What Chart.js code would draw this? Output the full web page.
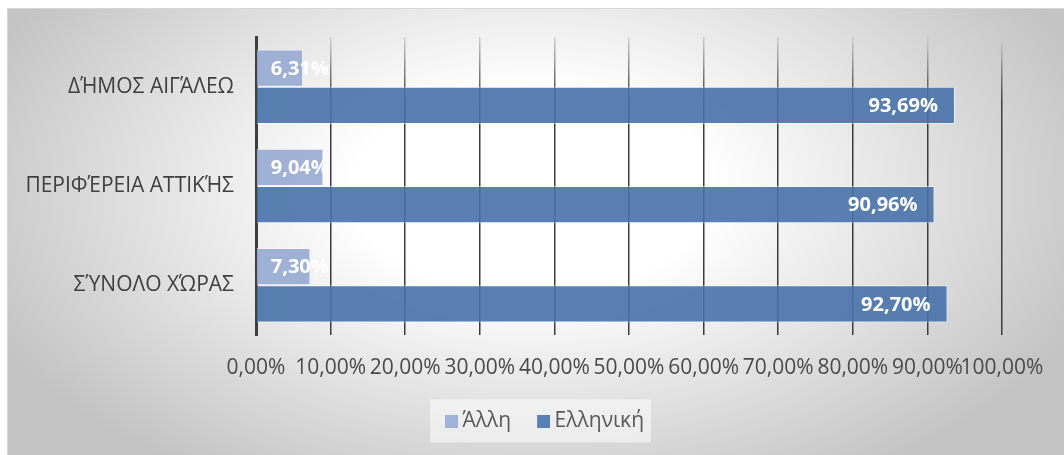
<!DOCTYPE html>
<html>
<head>
<meta charset="utf-8">
<script src="https://cdn.jsdelivr.net/npm/chart.js@4"></script>
<style>
html,body{margin:0;padding:0;background:#fff;}
#wrap{width:1064px;height:455px;position:relative;}
</style>
</head>
<body>
<div id="wrap"><canvas id="c" width="1064" height="455"></canvas></div>
<script>
const categories = ['ΔΉΜΟΣ ΑΙΓΆΛΕΩ', 'ΠΕΡΙΦΈΡΕΙΑ ΑΤΤΙΚΉΣ', 'ΣΎΝΟΛΟ ΧΏΡΑΣ'];
const seriesNames = ['Άλλη', 'Ελληνική'];
const alliValues = [6.31, 9.04, 7.30];
const ellinikiValues = [93.69, 90.96, 92.70];
const xTicks = [0, 10, 20, 30, 40, 50, 60, 70, 80, 90, 100];

const FONT = "'Open Sans', 'Noto Sans', sans-serif";
const fmt = v => v.toFixed(2).replace('.', ',') + '%';

const barColors = ['rgba(150,171,209,0.9)', 'rgba(72,114,168,0.9)'];
const legendColors = ['rgb(160,179,214)', 'rgb(90,128,177)'];

function legendSwatch(color) {
  const c = document.createElement('canvas');
  c.width = 25; c.height = 13;
  const x = c.getContext('2d');
  x.fillStyle = color;
  x.fillRect(12, 0, 13, 13);
  return c;
}

const bgPlugin = {
  id: 'bg',
  beforeDraw(chart) {
    const ctx = chart.ctx;
    const W = chart.width, H = chart.height;
    ctx.save();
    ctx.fillStyle = '#ffffff';
    ctx.fillRect(0, 0, W, H);
    const cx = 532, cy = 190, rx = 600, ry = 340;
    ctx.save();
    ctx.beginPath();
    ctx.rect(7, 8, W - 7, H - 8);
    ctx.clip();
    ctx.translate(cx, cy);
    ctx.scale(1, ry / rx);
    const g = ctx.createRadialGradient(0, 0, 0, 0, 0, rx);
    g.addColorStop(0, '#ffffff');
    g.addColorStop(0.3, '#ffffff');
    g.addColorStop(1, '#c3c3c3');
    ctx.fillStyle = g;
    ctx.fillRect(-cx - 10, -cy * rx / ry - 10, W + 20, H * rx / ry + 20);
    ctx.restore();
    ctx.strokeStyle = '#d6d6d6';
    ctx.lineWidth = 1;
    ctx.beginPath();
    ctx.moveTo(7.5, H);
    ctx.lineTo(7.5, 8.5);
    ctx.lineTo(W, 8.5);
    ctx.stroke();
    const lg = chart.legend;
    if (lg && lg.legendHitBoxes && lg.legendHitBoxes.length) {
      const hb = lg.legendHitBoxes;
      const last = hb[hb.length - 1];
      const x0 = hb[0].left - 9, x1 = last.left + last.width + 7;
      const yc = hb[0].top + hb[0].height / 2;
      ctx.fillStyle = 'rgba(255,255,255,0.5)';
      ctx.fillRect(x0, yc - 22, x1 - x0, 43);
    }
    ctx.restore();
  }
};

const labelPlugin = {
  id: 'barLabels',
  afterDatasetsDraw(chart) {
    const ctx = chart.ctx;
    ctx.save();
    ctx.font = "bold 20px " + FONT;
    ctx.fillStyle = '#ffffff';
    ctx.textAlign = 'right';
    ctx.textBaseline = 'middle';
    chart.data.datasets.forEach((ds, di) => {
      const meta = chart.getDatasetMeta(di);
      meta.data.forEach((el, i) => {
        const txt = fmt(ds.data[i]);
        const w = ctx.measureText(txt).width;
        const right = Math.max(el.x - 17, el.base + 14 + w);
        ctx.fillText(txt, right, el.y + 1);
      });
    });
    ctx.restore();
  }
};

function gridColor(context) {
  const chart = context.chart;
  const a = chart.chartArea;
  if (!a) return '#404040';
  const g = chart.ctx.createLinearGradient(0, a.top, 0, a.bottom);
  g.addColorStop(0, '#cfcfcf');
  g.addColorStop(0.22, '#3c3c3c');
  g.addColorStop(1, '#3c3c3c');
  return g;
}

new Chart(document.getElementById('c'), {
  type: 'bar',
  data: {
    labels: categories,
    datasets: [
      {
        label: seriesNames[0],
        data: alliValues,
        backgroundColor: barColors[0],
        borderColor: 'rgba(255,255,255,0.55)',
        borderWidth: 1
      },
      {
        label: seriesNames[1],
        data: ellinikiValues,
        backgroundColor: barColors[1],
        borderColor: 'rgba(255,255,255,0.5)',
        borderWidth: 1
      }
    ]
  },
  options: {
    indexAxis: 'y',
    responsive: false,
    animation: false,
    devicePixelRatio: 1,
    layout: { padding: { left: 19, top: 37, right: 0, bottom: 13 } },
    datasets: { bar: { categoryPercentage: 0.75, barPercentage: 1.0 } },
    scales: {
      x: {
        min: 0,
        max: 100,
        afterBuildTicks(scale) { scale.ticks = xTicks.map(v => ({ value: v })); },
        afterFit(scale) { scale.height = 56; },
        grid: { color: gridColor, lineWidth: 1.5, drawTicks: false },
        border: { display: false },
        ticks: {
          autoSkip: false,
          maxRotation: 0,
          minRotation: 0,
          padding: 20,
          color: '#4a4a4a',
          font: { family: FONT, size: 21 },
          callback: v => fmt(v)
        }
      },
      y: {
        position: 'left',
        afterFit(scale) { scale.width = 237; },
        grid: { display: false, drawTicks: false },
        border: { display: true, color: '#3f3f3f', width: 3 },
        ticks: {
          padding: 22,
          color: '#404040',
          font: { family: FONT, size: 21 }
        }
      },
      yRight: {
        type: 'category',
        axis: 'y',
        position: 'right',
        afterFit(scale) { scale.width = 62; },
        grid: { display: false, drawTicks: false },
        border: { display: false },
        ticks: { display: false }
      }
    },
    plugins: {
      legend: {
        position: 'bottom',
        labels: {
          usePointStyle: true,
          boxWidth: 13,
          boxHeight: 13,
          padding: 20,
          color: '#595959',
          font: { family: FONT, size: 21 },
          generateLabels(chart) {
            const items = Chart.defaults.plugins.legend.labels.generateLabels(chart);
            items.forEach((it, i) => { it.pointStyle = legendSwatch(legendColors[i]); });
            return items;
          }
        }
      },
      tooltip: { enabled: false }
    }
  },
  plugins: [bgPlugin, labelPlugin]
});
</script>
</body>
</html>
